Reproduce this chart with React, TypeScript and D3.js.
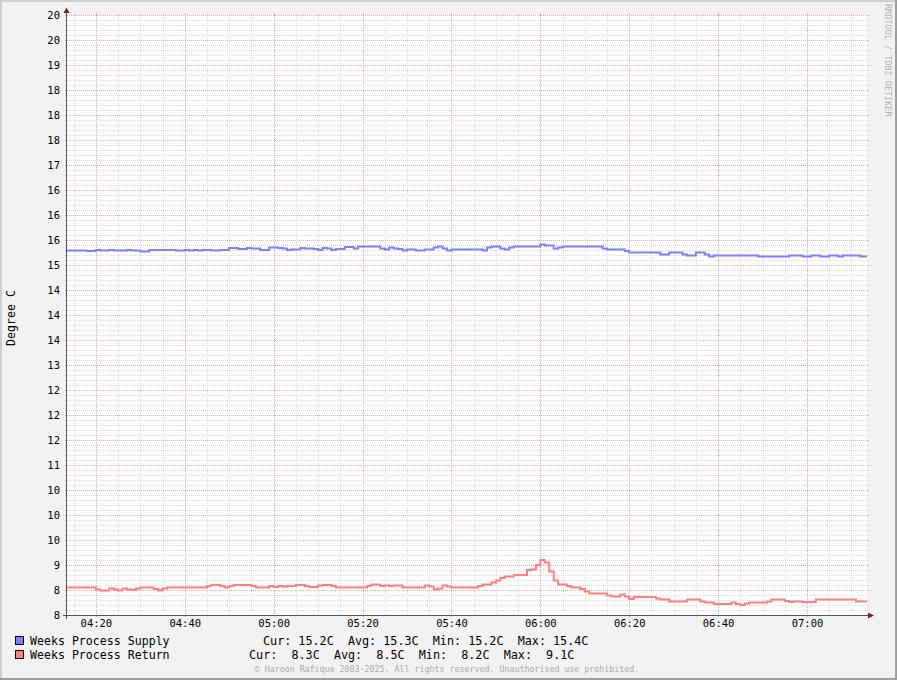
import React from 'react';
import * as d3 from 'd3';

// ---------- data ----------
const startTime = '04:13:30';
const endTime = '07:13:30';

const timeTickLabels = ['04:20', '04:40', '05:00', '05:20', '05:40', '06:00', '06:20', '06:40', '07:00'];

const yTickValues = [8, 8.5, 9, 9.5, 10, 10.5, 11, 11.5, 12, 12.5, 13, 13.5, 14, 14.5, 15, 15.5, 16, 16.5, 17, 17.5, 18, 18.5, 19, 19.5, 20];
const yTickLabels = ['8', '8', '9', '10', '10', '10', '11', '12', '12', '12', '13', '14', '14', '14', '15', '16', '16', '16', '17', '18', '18', '18', '19', '20', '20'];

const supplyTimes = [
  '04:13', '04:18', '04:20', '04:21', '04:23', '04:24', '04:27', '04:28', '04:30', '04:32',
  '04:38', '04:40', '04:41', '04:42', '04:43', '04:44', '04:46', '04:48', '04:50', '04:52',
  '04:54', '04:55', '04:57', '04:59', '05:01', '05:02', '05:03', '05:04', '05:06', '05:07',
  '05:09', '05:10', '05:11', '05:12', '05:13', '05:14', '05:16', '05:18', '05:19', '05:24',
  '05:25', '05:26', '05:27', '05:28', '05:29', '05:30', '05:32', '05:34', '05:36', '05:37',
  '05:38', '05:39', '05:40', '05:47', '05:48', '05:49', '05:51', '05:52', '05:53', '05:54',
  '06:00', '06:01', '06:03', '06:04', '06:05', '06:14', '06:15', '06:19', '06:20', '06:27',
  '06:29', '06:32', '06:33', '06:35', '06:37', '06:38', '06:39', '06:49', '06:56', '06:59',
  '07:01', '07:03', '07:05', '07:07', '07:08', '07:12',
];
const supplyValues = [
  15.29, 15.28, 15.30, 15.29, 15.30, 15.29, 15.30, 15.29, 15.27, 15.30,
  15.29, 15.30, 15.29, 15.30, 15.29, 15.30, 15.29, 15.30, 15.34, 15.32,
  15.34, 15.33, 15.30, 15.35, 15.34, 15.33, 15.30, 15.31, 15.34, 15.33,
  15.32, 15.30, 15.34, 15.33, 15.30, 15.32, 15.36, 15.33, 15.37, 15.33,
  15.31, 15.35, 15.33, 15.32, 15.29, 15.31, 15.29, 15.31, 15.35, 15.37,
  15.33, 15.29, 15.31, 15.29, 15.35, 15.37, 15.33, 15.31, 15.35, 15.37,
  15.41, 15.39, 15.33, 15.35, 15.37, 15.33, 15.31, 15.28, 15.25, 15.21,
  15.25, 15.21, 15.19, 15.25, 15.21, 15.17, 15.19, 15.17, 15.19, 15.17,
  15.19, 15.17, 15.19, 15.17, 15.19, 15.17,
];

const returnTimes = [
  '04:13', '04:20', '04:21', '04:23', '04:24', '04:25', '04:26', '04:27', '04:28', '04:29',
  '04:30', '04:33', '04:34', '04:35', '04:36', '04:45', '04:46', '04:48', '04:49', '04:50',
  '04:51', '04:55', '04:56', '04:59', '05:00', '05:01', '05:02', '05:03', '05:05', '05:07',
  '05:08', '05:10', '05:11', '05:13', '05:14', '05:21', '05:22', '05:24', '05:25', '05:26',
  '05:27', '05:29', '05:34', '05:35', '05:36', '05:37', '05:38', '05:39', '05:40', '05:46',
  '05:47', '05:49', '05:50', '05:51', '05:52', '05:54', '05:57', '05:58', '05:59', '06:00',
  '06:01', '06:02', '06:03', '06:04', '06:06', '06:07', '06:09', '06:10', '06:11', '06:15',
  '06:16', '06:18', '06:19', '06:20', '06:21', '06:26', '06:27', '06:29', '06:33', '06:36',
  '06:37', '06:39', '06:43', '06:44', '06:45', '06:46', '06:47', '06:51', '06:52', '06:55',
  '06:56', '06:57', '06:59', '07:02', '07:11',
];
const returnValues = [
  8.55, 8.51, 8.49, 8.53, 8.51, 8.49, 8.53, 8.51, 8.50, 8.53,
  8.55, 8.52, 8.49, 8.53, 8.55, 8.58, 8.60, 8.58, 8.55, 8.58,
  8.60, 8.58, 8.55, 8.58, 8.56, 8.58, 8.57, 8.58, 8.60, 8.58,
  8.56, 8.59, 8.60, 8.58, 8.55, 8.58, 8.61, 8.58, 8.59, 8.58,
  8.59, 8.55, 8.59, 8.57, 8.51, 8.53, 8.59, 8.57, 8.55, 8.58,
  8.61, 8.65, 8.69, 8.74, 8.77, 8.80, 8.90, 8.91, 9.00, 9.10,
  9.05, 8.87, 8.69, 8.61, 8.58, 8.55, 8.52, 8.47, 8.43, 8.39,
  8.37, 8.41, 8.37, 8.32, 8.36, 8.33, 8.31, 8.27, 8.31, 8.27,
  8.25, 8.22, 8.25, 8.22, 8.20, 8.23, 8.25, 8.27, 8.31, 8.28,
  8.26, 8.27, 8.26, 8.31, 8.27,
];

const legendNames = ['Weeks Process Supply', 'Weeks Process Return'];
const legendStats = [
  'Cur: 15.2C  Avg: 15.3C  Min: 15.2C  Max: 15.4C',
  'Cur:  8.3C  Avg:  8.5C  Min:  8.2C  Max:  9.1C',
];
const yAxisTitle = 'Degree C';
const watermark = 'RRDTOOL / TOBI OETIKER';
const footer = '\u00A9 Haroon Rafique 2003-2025. All rights reserved. Unauthorised use prohibited.';

// ---------- styles ----------
const W = 897;
const H = 680;
const X0 = 67;
const X1 = 867;
const YT = 15;
const YB = 615;
const seriesColors = ['#7f7fff', '#ff7f7f'];
const MONO = '"DejaVu Sans Mono", monospace';

const parseT = (s: string) => {
  const [h, m, sec] = s.split(':').map(Number);
  return new Date(2025, 0, 1, h, m, sec || 0);
};

export default function App() {
  const t0 = parseT(startTime);
  const t1 = parseT(endTime);
  const x = d3.scaleTime().domain([t0, t1]).range([X0, X1]);
  const y = d3.scaleLinear().domain([8, 20]).range([YB, YT]);

  const px = (v: number) => Math.round(v) + 0.5;

  const majorYpx = new Set(yTickValues.map((v) => px(y(v))));
  const majorT = timeTickLabels.map(parseT);
  const majorXpx = new Set(majorT.map((t) => px(x(t))));
  const minorY = y.ticks(120).filter((v) => !majorYpx.has(px(y(v))));
  const minorT = d3.timeMinute.every(5)!.range(t0, t1).filter((t) => !majorXpx.has(px(x(t))));

  const line = d3
    .line<[Date, number]>()
    .x((d) => x(d[0]))
    .y((d) => y(d[1]))
    .curve(d3.curveStepAfter);

  const mk = (times: string[], vals: number[]): [Date, number][] => {
    const pts: [Date, number][] = times.map((t, i) => [parseT(t), vals[i]]);
    pts.push([t1, vals[vals.length - 1]]);
    return pts;
  };
  const series = [mk(supplyTimes, supplyValues), mk(returnTimes, returnValues)];

  const minorCol = '#dcdcdc';
  const majorCol = '#e9a9a9';

  return (
    <svg width={W} height={H} style={{ position: 'absolute', left: 0, top: 0 }} xmlns="http://www.w3.org/2000/svg">
      <defs>
        <clipPath id="plotclip">
          <rect x={X0} y={YT} width={X1 - X0} height={YB - YT} />
        </clipPath>
      </defs>
      <rect x={0} y={0} width={W} height={H} fill="#f2f2f2" />
      <rect x={0} y={0} width={W} height={2} fill="#cfcfcf" />
      <rect x={0} y={0} width={2} height={H} fill="#cfcfcf" />
      <rect x={0} y={H - 2} width={W} height={2} fill="#9e9e9e" />
      <rect x={W - 2} y={0} width={2} height={H} fill="#9e9e9e" />

      <rect x={X0} y={YT} width={X1 - X0} height={YB - YT} fill="#ffffff" />

      {/* minor horizontal grid */}
      {minorY.map((v, i) => {
        const yy = px(y(v));
        return (
          <g key={'mh' + i}>
            <line x1={X0 - 2} x2={X0} y1={yy} y2={yy} stroke={minorCol} />
            <line x1={X1} x2={X1 + 2} y1={yy} y2={yy} stroke={minorCol} />
            <line x1={X0} x2={X1} y1={yy} y2={yy} stroke={minorCol} strokeDasharray="1 1" />
          </g>
        );
      })}
      {/* minor vertical grid */}
      {minorT.map((t, i) => {
        const xx = px(x(t));
        return (
          <g key={'mv' + i}>
            <line x1={xx} x2={xx} y1={YB} y2={YB + 2} stroke={minorCol} />
            <line x1={xx} x2={xx} y1={YT - 2} y2={YT} stroke={minorCol} />
            <line x1={xx} x2={xx} y1={YT} y2={YB} stroke={minorCol} strokeDasharray="1 1" />
          </g>
        );
      })}
      {/* major horizontal grid */}
      {yTickValues.map((v, i) => {
        const yy = px(y(v));
        return (
          <g key={'Mh' + i}>
            <line x1={X0 - 2} x2={X0} y1={yy} y2={yy} stroke={majorCol} />
            <line x1={X1} x2={X1 + 2} y1={yy} y2={yy} stroke={majorCol} />
            <line x1={X0} x2={X1} y1={yy} y2={yy} stroke={majorCol} strokeDasharray="1 1" />
          </g>
        );
      })}
      {/* major vertical grid */}
      {majorT.map((t, i) => {
        const xx = px(x(t));
        return (
          <g key={'Mv' + i}>
            <line x1={xx} x2={xx} y1={YB} y2={YB + 2} stroke={majorCol} />
            <line x1={xx} x2={xx} y1={YT - 2} y2={YT} stroke={majorCol} />
            <line x1={xx} x2={xx} y1={YT} y2={YB} stroke={majorCol} strokeDasharray="1 1" />
          </g>
        );
      })}

      {/* y labels */}
      {yTickValues.map((v, i) => (
        <text key={'yl' + i} x={60} y={y(v) + 4} textAnchor="end" fontFamily={MONO} fontSize={10.5} fill="#000">
          {yTickLabels[i]}
        </text>
      ))}
      {/* x labels */}
      {majorT.map((t, i) => (
        <text key={'xl' + i} x={x(t) + 0.5} y={627} textAnchor="middle" fontFamily={MONO} fontSize={10.5} fill="#000">
          {timeTickLabels[i]}
        </text>
      ))}

      {/* data lines */}
      <g clipPath="url(#plotclip)">
        {series.map((s, i) => (
          <path key={'s' + i} d={line(s) || ''} fill="none" stroke={seriesColors[i]} strokeWidth={2} />
        ))}
      </g>

      {/* axes */}
      <line x1={63} x2={870} y1={YB + 0.5} y2={YB + 0.5} stroke="#555" strokeWidth={1} />
      <line x1={X0 - 0.5} x2={X0 - 0.5} y1={619} y2={11} stroke="#555" strokeWidth={1} />
      <polygon points={`${868},${612.5} ${868},${618.5} ${874},${615.5}`} fill="#7f1f1f" />
      <polygon points={`${63.5},${13} ${69.5},${13} ${66.5},${7.5}`} fill="#7f1f1f" />

      {/* y axis title */}
      <text
        x={0}
        y={0}
        transform={`translate(15,318) rotate(-90)`}
        textAnchor="middle"
        fontFamily={MONO}
        fontSize={11.6}
        fill="#000"
      >
        {yAxisTitle}
      </text>

      {/* watermark */}
      <text
        x={0}
        y={0}
        transform={`translate(885,4) rotate(90)`}
        textAnchor="start"
        fontFamily={MONO}
        fontSize={8.5}
        fill="#b4b4b4"
      >
        {watermark}
      </text>

      {/* legend */}
      {legendNames.map((n, i) => (
        <g key={'lg' + i}>
          <rect x={15.5} y={636.5 + i * 14} width={8} height={8} fill={seriesColors[i]} stroke="#000" strokeWidth={1} />
          <text x={30} y={645 + i * 14} fontFamily={MONO} fontSize={11.6} fill="#000" style={{ whiteSpace: 'pre' }}>
            {n}
          </text>
          <text x={i === 0 ? 263 : 249} y={645 + i * 14} fontFamily={MONO} fontSize={11.75} fill="#000" style={{ whiteSpace: 'pre' }}>
            {legendStats[i]}
          </text>
        </g>
      ))}

      {/* footer */}
      <text x={447} y={671.5} textAnchor="middle" fontFamily={MONO} fontSize={8.3} fill="#ababab" style={{ whiteSpace: 'pre' }}>
        {footer}
      </text>
    </svg>
  );
}
